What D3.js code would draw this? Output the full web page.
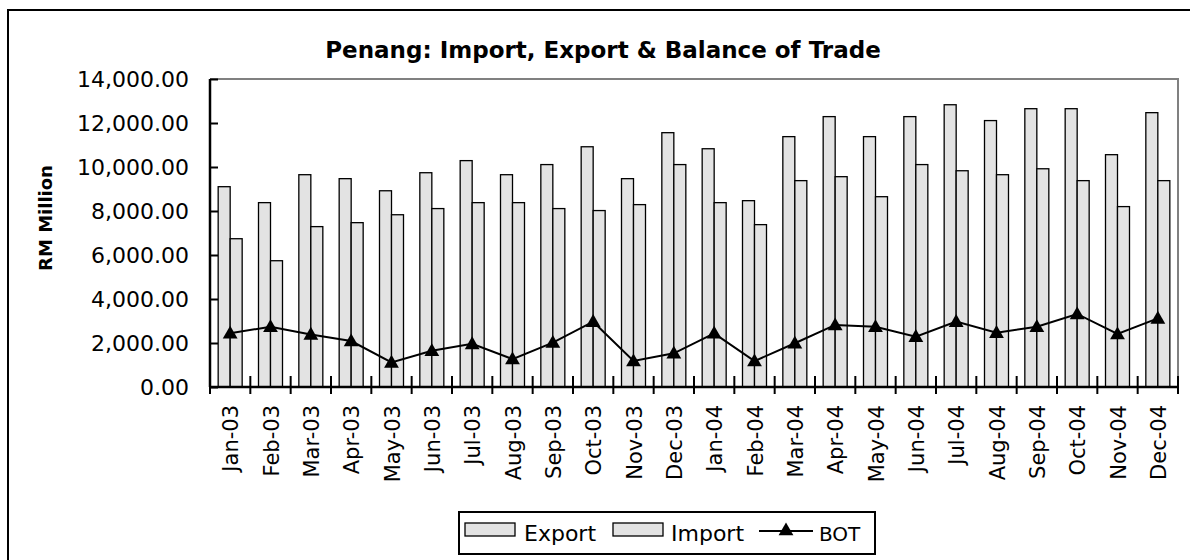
<!DOCTYPE html>
<meta charset="utf-8">
<style>
  body { margin: 0; background: #fff; }
  text { font-family: "DejaVu Sans", Verdana, sans-serif; fill: #000; }
  .bar { fill: #e3e3e3; stroke: #000; stroke-width: 1.3px; }
  .bot { fill: none; stroke: #000; stroke-width: 2px; }
</style>
<body>
<script src="https://cdn.jsdelivr.net/npm/d3@7/dist/d3.min.js"></script>
<script>
  var months = ["Jan-03", "Feb-03", "Mar-03", "Apr-03", "May-03", "Jun-03", "Jul-03", "Aug-03",
    "Sep-03", "Oct-03", "Nov-03", "Dec-03", "Jan-04", "Feb-04", "Mar-04", "Apr-04",
    "May-04", "Jun-04", "Jul-04", "Aug-04", "Sep-04", "Oct-04", "Nov-04", "Dec-04"];
  var exportVals = [9105, 8380, 9650, 9470, 8920, 9740, 10290, 9650,
    10110, 10920, 9470, 11560, 10830, 8470, 11380, 12290,
    11380, 12290, 12830, 12110, 12650, 12650, 10560, 12470];
  var importVals = [6740, 5740, 7290, 7470, 7830, 8110, 8380, 8380,
    8110, 8020, 8290, 10110, 8380, 7380, 9380, 9560,
    8650, 10110, 9830, 9650, 9920, 9380, 8200, 9380];
  var botVals = [2440, 2740, 2390, 2090, 1120, 1650, 1960, 1270,
    2020, 2970, 1180, 1530, 2440, 1180, 1990, 2820,
    2740, 2290, 2970, 2470, 2740, 3320, 2410, 3120];
  var yTicks = [0, 2000, 4000, 6000, 8000, 10000, 12000, 14000];

  var W = 1190, H = 560;
  var plot = { left: 210, top: 79, right: 1178, bottom: 387 };

  var svg = d3.select("body").append("svg").attr("width", W).attr("height", H);

  // outer chart frame (only top and left edges fall inside the picture)
  svg.append("path").attr("d", "M8,600 V10 H1200")
    .attr("fill", "none").attr("stroke", "#000").attr("stroke-width", 2);

  var x = d3.scaleBand().domain(months).range([plot.left, plot.right]);
  var y = d3.scaleLinear().domain([0, 14000]).range([plot.bottom, plot.top]);
  var bw = 12;

  // plot area border (grey top and right)
  svg.append("path")
    .attr("d", "M" + plot.left + "," + plot.top + " H" + plot.right + " V" + plot.bottom)
    .attr("fill", "none").attr("stroke", "#808080").attr("stroke-width", 2);

  // bars
  svg.append("g").selectAll("rect").data(months).join("rect")
    .attr("class", "bar")
    .attr("x", d => x(d) + x.bandwidth() / 2 - bw)
    .attr("width", bw)
    .attr("y", (d, i) => y(exportVals[i]))
    .attr("height", (d, i) => y(0) - y(exportVals[i]));
  svg.append("g").selectAll("rect").data(months).join("rect")
    .attr("class", "bar")
    .attr("x", d => x(d) + x.bandwidth() / 2)
    .attr("width", bw)
    .attr("y", (d, i) => y(importVals[i]))
    .attr("height", (d, i) => y(0) - y(importVals[i]));

  // BOT line
  var line = d3.line()
    .x((d, i) => x(months[i]) + x.bandwidth() / 2)
    .y(d => y(d));
  svg.append("path").datum(botVals).attr("class", "bot").attr("d", line);
  var tri = d3.symbol().type(d3.symbolTriangle).size(95);
  svg.append("g").selectAll("path").data(botVals).join("path")
    .attr("d", tri)
    .attr("transform", (d, i) => "translate(" + (x(months[i]) + x.bandwidth() / 2) + "," + (y(d) + 1) + ")")
    .attr("fill", "#000");

  // y axis
  var yAxis = svg.append("g").attr("transform", "translate(" + plot.left + ",0)")
    .call(d3.axisLeft(y).tickValues(yTicks).tickSize(-8).tickPadding(21)
      .tickFormat(d3.format(",.2f")));
  yAxis.select(".domain").attr("stroke-width", 2.5).attr("d", "M0," + plot.top + "V" + plot.bottom);
  yAxis.selectAll(".tick line").attr("stroke-width", 2);
  yAxis.selectAll("text").style("font-size", "22px").attr("dy", "0.36em");

  // x axis: ticks between categories, crossing the axis
  var xAxis = svg.append("g").attr("transform", "translate(0," + plot.bottom + ")");
  xAxis.append("line").attr("x1", plot.left).attr("x2", plot.right)
    .attr("stroke", "#000").attr("stroke-width", 2.5);
  xAxis.selectAll("line.tk").data(d3.range(months.length + 1)).join("line")
    .attr("class", "tk")
    .attr("x1", i => plot.left + i * x.step()).attr("x2", i => plot.left + i * x.step())
    .attr("y1", -11).attr("y2", 7)
    .attr("stroke", "#000").attr("stroke-width", 2);
  xAxis.selectAll("text").data(months).join("text")
    .attr("transform", d => "translate(" + (x(d) + x.bandwidth() / 2 + 8) + ",18) rotate(-90)")
    .attr("text-anchor", "end")
    .style("font-size", "21px")
    .text(d => d);

  // titles
  svg.append("text").attr("x", 603).attr("y", 58).attr("text-anchor", "middle")
    .style("font-size", "23px").style("font-weight", "bold")
    .text("Penang: Import, Export & Balance of Trade");
  svg.append("text").attr("transform", "translate(52,218) rotate(-90)")
    .attr("text-anchor", "middle").style("font-size", "18px").style("font-weight", "bold")
    .text("RM Million");

  // legend
  var lg = svg.append("g");
  lg.append("rect").attr("x", 459).attr("y", 512).attr("width", 416).attr("height", 42)
    .attr("fill", "#fff").attr("stroke", "#000").attr("stroke-width", 2);
  var items = [
    { name: "Export", sx: 465, tx: 524 },
    { name: "Import", sx: 613, tx: 671 }
  ];
  items.forEach(it => {
    lg.append("rect").attr("class", "bar").attr("x", it.sx).attr("y", 523)
      .attr("width", 50).attr("height", 13);
    lg.append("text").attr("x", it.tx).attr("y", 541).style("font-size", "22px").text(it.name);
  });
  lg.append("line").attr("x1", 759).attr("x2", 813).attr("y1", 531).attr("y2", 531)
    .attr("stroke", "#000").attr("stroke-width", 2);
  lg.append("path").attr("d", tri).attr("transform", "translate(786,531)").attr("fill", "#000");
  lg.append("text").attr("x", 819).attr("y", 541).style("font-size", "20px").text("BOT");
</script>
</body>
